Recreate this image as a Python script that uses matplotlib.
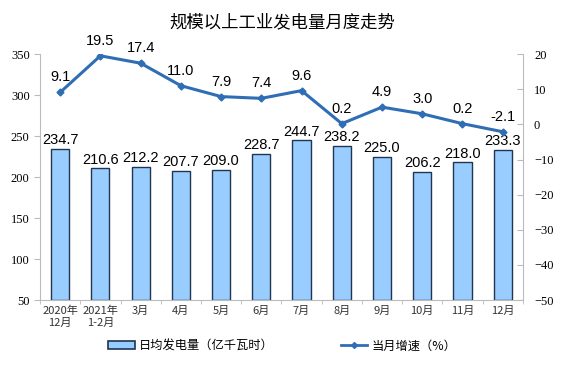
import numpy as np
import matplotlib.pyplot as plt
from matplotlib.lines import Line2D
from matplotlib.patches import Patch

plt.rcParams['font.family'] = ['Noto Sans CJK SC', 'DejaVu Sans']

# Data
months = ['2020年\n12月', '2021年\n1-2月', '3月', '4月', '5月', '6月', '7月',
          '8月', '9月', '10月', '11月', '12月']
daily_output = [234.7, 210.6, 212.2, 207.7, 209.0, 228.7, 244.7,
                238.2, 225.0, 206.2, 218.0, 233.3]
growth = [9.1, 19.5, 17.4, 11.0, 7.9, 7.4, 9.6, 0.2, 4.9, 3.0, 0.2, -2.1]

bar_color = '#99CCFF'
line_color = '#2F6EB5'
num_font = 'Liberation Serif'
lab_font = 'Liberation Sans'

fig = plt.figure(figsize=(5.64, 3.78), dpi=100)
ax = fig.add_axes([0.071, 0.206, 0.856, 0.651])
x = np.arange(len(months))

ax.bar(x, [v - 50 for v in daily_output], bottom=50, width=0.45,
       color=bar_color, edgecolor='#1F3550', linewidth=1.0, zorder=2)
for xi, v in zip(x, daily_output):
    ax.text(xi, v + 2, f'{v:.1f}', ha='center', va='bottom',
            fontsize=10.5, family=lab_font, zorder=5)

ax.set_xlim(-0.5, len(months) - 0.5)
ax.set_ylim(50, 350)
ax.set_yticks(range(50, 351, 50))
ax.set_xticks(x)
ax.set_xticklabels(months, fontsize=8, color='#333333')
ax.set_xticks(np.arange(-0.5, len(months), 1), minor=True)
ax.tick_params(axis='x', which='major', length=0, pad=4)
ax.tick_params(axis='x', which='minor', length=3, color='#BBBBBB')
ax.tick_params(axis='y', length=4, color='#BBBBBB', labelsize=9)
for lab in ax.get_yticklabels():
    lab.set_family(num_font)
for s in ['top', 'right']:
    ax.spines[s].set_visible(False)
for s in ['left', 'bottom']:
    ax.spines[s].set_color('#BBBBBB')

# Growth line
ax2 = ax.twinx()
ax2.plot(x, growth, color=line_color, linewidth=2.2, marker='D',
         markersize=3.5, zorder=4)
for xi, g in zip(x, growth):
    ax2.text(xi, g + 2.3, f'{g:.1f}', ha='center', va='bottom',
             fontsize=10.5, family=lab_font, zorder=5)
ax2.set_ylim(-50, 20)
ax2.set_yticks(range(-50, 21, 10))
ax2.tick_params(axis='y', direction='out', length=4, color='#BBBBBB',
                labelsize=9, pad=8)
ax2.tick_params(axis='y', which='both', left=False, right=True,
                labelleft=False, labelright=True, direction='in')
for lab in ax2.get_yticklabels():
    lab.set_family(num_font)
for s in ['top', 'left', 'bottom']:
    ax2.spines[s].set_visible(False)
ax2.spines['right'].set_color('#BBBBBB')

fig.text(0.5, 0.94, '规模以上工业发电量月度走势', ha='center', va='center',
         fontsize=12.5)

handles = [Patch(facecolor=bar_color, edgecolor='#1F3550', linewidth=1.2),
           Line2D([0], [0], color=line_color, linewidth=2, marker='D',
                  markersize=3)]
fig.legend(handles, ['日均发电量（亿千瓦时）', '当月增速（%）'],
           loc='center', bbox_to_anchor=(0.5, 0.085), ncol=2,
           frameon=False, fontsize=8.8, columnspacing=5.5,
           handlelength=2.2, handleheight=0.6, handletextpad=0.3)

fig.savefig('out.png', dpi=100)
